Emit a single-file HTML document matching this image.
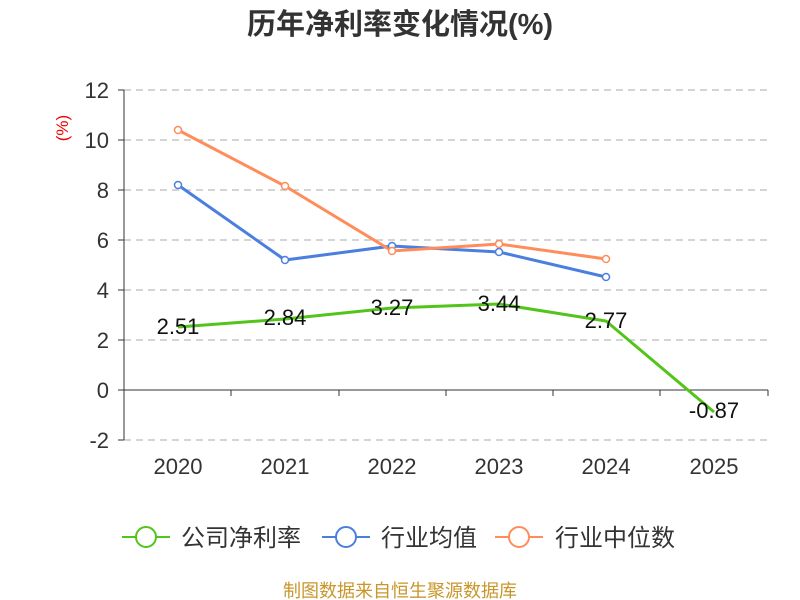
<!DOCTYPE html>
<html><head><meta charset="utf-8"><style>body{margin:0;background:#fff}svg{display:block}</style></head><body>
<svg width="800" height="600" xmlns="http://www.w3.org/2000/svg" font-family="Liberation Sans, Noto Sans CJK SC, sans-serif">
<text x="400" y="34" text-anchor="middle" font-size="29" font-weight="bold" fill="#333">历年净利率变化情况(%)</text>
<text x="68" y="128" font-size="17" fill="#e00" transform="rotate(-90 68 128)" text-anchor="middle">(%)</text>
<g stroke="#bbb" stroke-dasharray="7,5" stroke-width="1.2">
<line x1="124" y1="90" x2="768" y2="90"/><line x1="124" y1="140" x2="768" y2="140"/><line x1="124" y1="190" x2="768" y2="190"/><line x1="124" y1="240" x2="768" y2="240"/><line x1="124" y1="290" x2="768" y2="290"/><line x1="124" y1="340" x2="768" y2="340"/><line x1="124" y1="440" x2="768" y2="440"/>
</g>
<g stroke="#333" stroke-width="1">
<line x1="124" y1="90" x2="124" y2="440"/>
<line x1="124" y1="390" x2="768" y2="390"/>
<line x1="118" y1="90" x2="124" y2="90"/><line x1="118" y1="140" x2="124" y2="140"/><line x1="118" y1="190" x2="124" y2="190"/><line x1="118" y1="240" x2="124" y2="240"/><line x1="118" y1="290" x2="124" y2="290"/><line x1="118" y1="340" x2="124" y2="340"/><line x1="118" y1="390" x2="124" y2="390"/><line x1="118" y1="440" x2="124" y2="440"/>
<line x1="124" y1="390" x2="124" y2="396"/><line x1="231" y1="390" x2="231" y2="396"/><line x1="339" y1="390" x2="339" y2="396"/><line x1="446" y1="390" x2="446" y2="396"/><line x1="553" y1="390" x2="553" y2="396"/><line x1="660" y1="390" x2="660" y2="396"/><line x1="768" y1="390" x2="768" y2="396"/>
</g>
<g font-size="22" fill="#333" text-anchor="end">
<text x="109" y="98">12</text><text x="109" y="148">10</text><text x="109" y="198">8</text><text x="109" y="248">6</text><text x="109" y="298">4</text><text x="109" y="348">2</text><text x="109" y="398">0</text><text x="109" y="448">-2</text>
</g>
<g font-size="22" fill="#333" text-anchor="middle">
<text x="178" y="474">2020</text><text x="285" y="474">2021</text><text x="392" y="474">2022</text><text x="499" y="474">2023</text><text x="606" y="474">2024</text><text x="714" y="474">2025</text>
</g>
<polyline points="178,327 285,319 392,308 499,304 606,321 714,412" fill="none" stroke="#52c41a" stroke-width="3"/>
<polyline points="178,185 285,260 392,246 499,252 606,277" fill="none" stroke="#4a7fe0" stroke-width="3"/>
<polyline points="178,130 285,186 392,251 499,244 606,259" fill="none" stroke="#ff8c5a" stroke-width="3"/>
<g fill="#fff" stroke="#4a7fe0" stroke-width="1.5"><circle cx="178" cy="185" r="3.5"/><circle cx="285" cy="260" r="3.5"/><circle cx="392" cy="246" r="3.5"/><circle cx="499" cy="252" r="3.5"/><circle cx="606" cy="277" r="3.5"/></g>
<g fill="#fff" stroke="#ff8c5a" stroke-width="1.5"><circle cx="178" cy="130" r="3.5"/><circle cx="285" cy="186" r="3.5"/><circle cx="392" cy="251" r="3.5"/><circle cx="499" cy="244" r="3.5"/><circle cx="606" cy="259" r="3.5"/></g>
<g font-size="22" fill="#111" text-anchor="middle">
<text x="178" y="334">2.51</text><text x="285" y="325">2.84</text><text x="392" y="315">3.27</text><text x="499" y="311">3.44</text><text x="606" y="328">2.77</text><text x="714" y="418">-0.87</text>
</g>
<g stroke-width="2" fill="#fff">
<line x1="122" y1="537" x2="170" y2="537" stroke="#52c41a"/><circle cx="146" cy="537" r="10" stroke="#52c41a"/>
<line x1="322" y1="537" x2="370" y2="537" stroke="#4a7fe0"/><circle cx="346" cy="537" r="10" stroke="#4a7fe0"/>
<line x1="495" y1="537" x2="543" y2="537" stroke="#ff8c5a"/><circle cx="519" cy="537" r="10" stroke="#ff8c5a"/>
</g>
<g font-size="24" fill="#333"><text x="181" y="546">公司净利率</text><text x="381" y="546">行业均值</text><text x="555" y="546">行业中位数</text></g>
<text x="400" y="597" text-anchor="middle" font-size="18" fill="#c8962a">制图数据来自恒生聚源数据库</text>
</svg>
</body></html>
